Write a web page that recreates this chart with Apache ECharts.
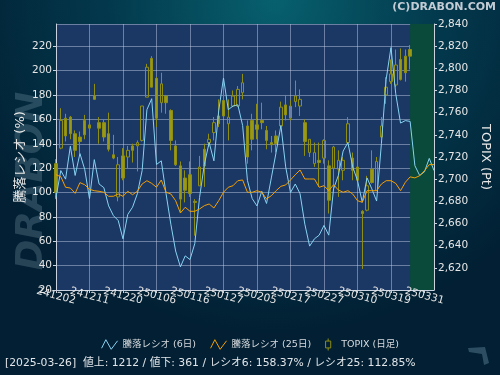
<!DOCTYPE html>
<html>
<head>
<meta charset="utf-8">
<script src="https://cdn.jsdelivr.net/npm/echarts@6/dist/echarts.min.js"></script>
<style>
  html, body { margin: 0; padding: 0; background: #02253a; }
  #chart { width: 500px; height: 375px; }
</style>
</head>
<body>
<div id="chart"></div>
<script>
// trading days shown on the x axis (last data day is 250326)
const dates = [
  '241202','241203','241204','241205','241206','241209','241210','241211','241212','241213',
  '241216','241217','241218','241219','241220','241223','241224','241225','241226','241227',
  '241230','250106','250107','250108','250109','250110','250114','250115','250116','250117',
  '250120','250121','250122','250123','250124','250127','250128','250129','250130','250131',
  '250203','250204','250205','250206','250207','250210','250212','250213','250214','250217',
  '250218','250219','250220','250221','250225','250226','250227','250228','250303','250304',
  '250305','250306','250307','250310','250311','250312','250313','250314','250317','250318',
  '250319','250321','250324','250325','250326','250327','250328','250331','250401','250402'
];

// TOPIX daily candles
const topixOpen = [
  2714,2728,2755,2756,2741,2738,2753,2746,2775,2751,2751,2741,2722,2684,2721,2720,2730,2730,2735,2774,
  2809,2791,2769,2775,2762,2730,2712,2701,2704,2680,2694,2727,2733,2742,2757,2771,2750,2766,2766,2778,
  2748,2753,2749,2753,2744,2733,2739,2748,2767,2755,2770,2766,2751,2724,2714,2717,2719,2712,2710,2709,
  2708,2733,2719,2711,2671,2672,2709,2690,2738,2776,2788,2785,2808,2811,2817
];
const topixClose = [
  2688,2753,2739,2741,2726,2734,2740,2749,2772,2746,2738,2727,2719,2713,2701,2726,2726,2733,2766,2801,
  2783,2755,2786,2769,2735,2713,2682,2690,2687,2679,2711,2712,2736,2751,2750,2757,2756,2775,2781,2787,
  2720,2736,2745,2751,2735,2731,2732,2765,2758,2766,2775,2772,2734,2736,2724,2715,2735,2681,2729,2717,
  2717,2750,2708,2699,2669,2694,2697,2716,2748,2783,2795,2803,2790,2796,2811
];
const topixLow = [
  2682,2727,2734,2736,2720,2723,2736,2738,2772,2732,2734,2725,2718,2680,2699,2710,2715,2707,2734,2774,
  2783,2747,2760,2759,2726,2712,2670,2679,2684,2649,2694,2693,2729,2735,2747,2756,2735,2765,2765,2772,
  2714,2726,2736,2745,2727,2724,2724,2746,2753,2753,2765,2757,2721,2720,2711,2693,2714,2669,2690,2684,
  2699,2732,2699,2693,2619,2671,2696,2690,2738,2768,2786,2783,2789,2788,2799
];
const topixHigh = [
  2718,2764,2759,2757,2744,2743,2758,2751,2786,2756,2754,2760,2740,2720,2728,2730,2732,2735,2766,2804,
  2811,2792,2796,2776,2763,2735,2716,2708,2716,2682,2721,2732,2741,2756,2772,2780,2772,2780,2784,2795,
  2753,2759,2768,2769,2748,2739,2744,2770,2776,2771,2789,2781,2754,2736,2733,2733,2736,2717,2730,2726,
  2720,2756,2724,2717,2672,2703,2726,2720,2756,2792,2808,2817,2818,2817,2821
];

// advance/decline ratios (%)
const ratio6 = [
  96,118,111,138,114,132,119,95,127,107,104,89,81,77,62,82,88,99,118,168,
  177,123,126,99,74,52,39,48,45,58,96,123,141,126,167,194,168,171,172,155,
  110,95,89,101,91,112,133,155,121,100,107,99,74,56,62,65,73,65,103,114,
  134,141,121,110,92,112,103,93,140,193,219,181,157,159,158.37,122,114,117,128,118
];
const ratio25 = [
  114.6,113,104.3,103.7,99.3,108.1,106.4,102.6,101.5,101,100.2,96.9,96.9,98.8,96.9,101,98.2,101,107,109.7,
  107.5,104.3,110.3,100.2,98.8,93.3,83.2,87.9,84.6,84.6,86.5,89.2,90.6,87.3,93.3,100.2,104.3,105.6,109.7,110.3,
  100.2,100.2,101.5,100.2,94.7,97.4,101.5,105.1,106.2,110.3,114.6,118.5,111.1,111.1,111.1,104.3,105.6,101.5,106.4,102.1,
  100.2,101.5,98.8,93.3,92,101.5,101.5,101.5,107,109.7,109.7,107.5,101.5,108.4,112.85,112,113.8,117.9,122.9,122.9
];

const infoText = '[2025-03-26]  値上: 1212 / 値下: 361 / レシオ6: 158.37% / レシオ25: 112.85%';

const FONT = "'DejaVu Sans', 'Noto Sans CJK JP', sans-serif";
const gridLine = 'rgba(205,215,235,0.45)';
const axisColor = '#c9d2de';
const candleEdge = '#8e8e14';

const candles = topixOpen.map((o, i) => [o, topixClose[i], topixLow[i], topixHigh[i]]);

// date labels every 7 trading days; split over two axes so echarts does not drop overlapping ones
function dateLabel(offset) {
  return {
    interval: function (i) { return i % 14 === offset; },
    rotate: -15, align: 'center', margin: 6, lineHeight: 8,
    showMinLabel: offset === 0 ? true : null,
    color: '#e6e6e6', fontSize: 10.5, fontFamily: FONT
  };
}

var myChart = echarts.init(document.getElementById('chart'), null, { renderer: 'canvas' });

var option = {
  animation: false,
  textStyle: { fontFamily: FONT },
  graphic: [
    {
      type: 'rect', z: -10, silent: true,
      shape: { x: 0, y: 0, width: 500, height: 375 },
      style: {
        fill: new echarts.graphic.RadialGradient(0.55, 0.0, 0.9, [
          { offset: 0, color: '#07606e' },
          { offset: 0.5, color: '#03384c' },
          { offset: 1, color: '#021f33' }
        ])
      }
    },
    {
      type: 'text', z: -5, silent: true,
      x: 32, y: 181, rotation: Math.PI / 2,
      style: {
        text: 'DRABON', fill: 'rgba(150,180,195,0.25)',
        font: 'italic bold 37px ' + FONT,
        textAlign: 'center', textVerticalAlign: 'middle'
      }
    },
    {
      type: 'polygon', z: -5, silent: true,
      shape: { points: [[468,348],[485,347],[486,351],[489,363],[484,365],[482,354],[469,352]] },
      style: { fill: 'rgba(110,150,170,0.4)' }
    },
    {
      type: 'text', right: 4, top: 2,
      style: { text: '(C)DRABON.COM', fill: '#c3ccd4', font: 'bold 11px ' + FONT }
    },
    {
      type: 'text', left: 5, top: 358,
      style: { text: infoText, fill: '#e2e6ea', font: '10.8px ' + FONT }
    }
  ],
  legend: {
    left: 'center',
    top: 333,
    itemWidth: 16,
    itemHeight: 12,
    itemGap: 14,
    textStyle: { color: '#d8dce0', fontSize: 9.5, fontFamily: FONT },
    data: [
      {
        name: '騰落レシオ (6日)',
        icon: 'path://M0,9L4,1L9,10L15,2',
        itemStyle: { color: 'rgba(0,0,0,0)', borderColor: '#87d3f3', borderWidth: 1 }
      },
      {
        name: '騰落レシオ (25日)',
        icon: 'path://M0,9L4,1L9,10L15,2',
        itemStyle: { color: 'rgba(0,0,0,0)', borderColor: '#f5a000', borderWidth: 1 }
      },
      {
        name: 'TOPIX (日足)',
        icon: 'path://M3,0L3,3M0,3L6,3L6,11L0,11ZM3,11L3,14',
        itemStyle: { color: 'rgba(0,0,0,0)', borderColor: candleEdge, borderWidth: 1 }
      }
    ]
  },
  grid: {
    left: 56, right: 62, top: 24, bottom: 85,
    show: true, backgroundColor: '#1b3764', borderWidth: 0
  },
  xAxis: [
    {
      type: 'category',
      data: dates,
      boundaryGap: false,
      position: 'bottom',
      z: 1,
      axisLine: { show: true, lineStyle: { color: axisColor } },
      axisTick: { show: true, interval: 6, length: 3, lineStyle: { color: axisColor } },
      axisLabel: dateLabel(0),
      splitLine: { show: true, interval: 6, lineStyle: { color: gridLine } }
    },
    {
      type: 'category',
      data: dates,
      boundaryGap: false,
      position: 'bottom',
      z: 1,
      axisLine: { show: false },
      axisTick: { show: false },
      axisLabel: dateLabel(7),
      splitLine: { show: false }
    }
  ],
  yAxis: [
    {
      type: 'value',
      position: 'left',
      min: 20, max: 238.3, interval: 20,
      z: 1,
      name: '騰落レシオ (%)',
      nameLocation: 'middle',
      nameRotate: 90,
      nameGap: 29,
      nameMoveOverlap: false,
      nameTextStyle: { color: '#e8e8e8', fontSize: 13, fontFamily: FONT },
      axisLine: { show: true, lineStyle: { color: axisColor } },
      axisTick: { show: true, length: 3, lineStyle: { color: axisColor } },
      axisLabel: { color: '#e6e6e6', fontSize: 10.5, fontFamily: FONT, margin: 4, showMinLabel: true, showMaxLabel: false },
      splitLine: { show: true, lineStyle: { color: gridLine } }
    },
    {
      type: 'value',
      position: 'right',
      min: 2600, max: 2840, interval: 20,
      z: 1,
      name: 'TOPIX (Pt)',
      nameLocation: 'middle',
      nameRotate: -90,
      nameGap: 42,
      nameTextStyle: { color: '#e8e8e8', fontSize: 13, fontFamily: FONT },
      axisLine: { show: true, lineStyle: { color: axisColor } },
      axisTick: { show: true, length: 3, lineStyle: { color: axisColor } },
      axisLabel: {
        color: '#e6e6e6', fontSize: 10.5, fontFamily: FONT, margin: 4,
        showMinLabel: false, showMaxLabel: true,
        formatter: function (v) { return v.toLocaleString('en-US'); }
      },
      splitLine: { show: false }
    }
  ],
  series: [
    {
      // holds the shaded "latest" region only
      type: 'line',
      z: 0.5,
      data: ratio25,
      symbol: 'none',
      lineStyle: { opacity: 0 },
      silent: true,
      markArea: {
        silent: true,
        itemStyle: { color: '#094a3a' },
        data: [[{ xAxis: '250326' }, { xAxis: '250402' }]]
      }
    },
    {
      name: 'TOPIX (日足)',
      type: 'candlestick',
      yAxisIndex: 1,
      data: candles,
      barWidth: 3,
      itemStyle: {
        color: 'rgba(0,0,0,0)',
        color0: '#999916',
        borderColor: candleEdge,
        borderColor0: candleEdge,
        borderWidth: 1
      }
    },
    {
      name: '騰落レシオ (6日)',
      type: 'line',
      yAxisIndex: 0,
      data: ratio6,
      symbol: 'none',
      color: '#87d3f3',
      lineStyle: { width: 1, color: '#87d3f3' }
    },
    {
      name: '騰落レシオ (25日)',
      type: 'line',
      yAxisIndex: 0,
      data: ratio25,
      symbol: 'none',
      color: '#f5a000',
      lineStyle: { width: 1, color: '#f5a000' }
    }
  ]
};

option && myChart.setOption(option);
</script>
</body>
</html>
